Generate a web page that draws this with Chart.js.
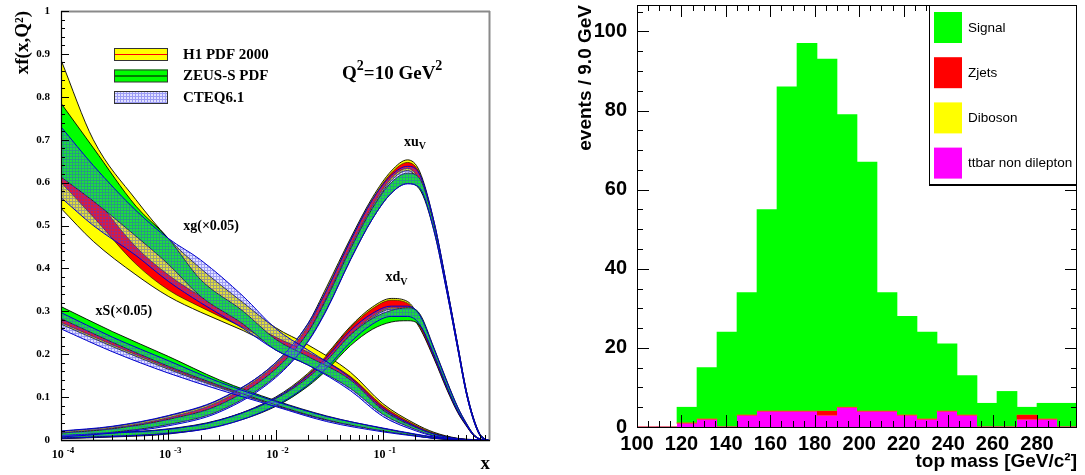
<!DOCTYPE html>
<html>
<head>
<meta charset="utf-8">
<script src="https://cdn.jsdelivr.net/npm/chart.js@4.4.1/dist/chart.umd.min.js"></script>
<style>
  html, body { margin: 0; padding: 0; background: #fff; }
  #wrap { position: relative; width: 1085px; height: 475px; overflow: hidden; }
  #pdf { position: absolute; left: 0; top: 0; }
  #mass { position: absolute; left: 540px; top: 0; }
</style>
</head>
<body>
<div id="wrap">
  <canvas id="pdf" width="540" height="475"></canvas>
  <canvas id="mass" width="545" height="475"></canvas>
</div>
<script>
// ---- left panel: PDF bands at Q2 = 10 GeV2 ----
const xTickExponents = ["-4", "-3", "-2", "-1"];
const xTickValues = [1e-4, 1e-3, 1e-2, 1e-1];

const xgX = [1e-4, 2e-4, 5e-4, 1e-3, 2e-3, 5e-3, 1e-2, 2e-2, 5e-2, 0.1, 0.2, 0.3, 0.5, 0.7, 1];
const xgH1Lo = [0.54, 0.463, 0.385, 0.335, 0.298, 0.255, 0.218, 0.185, 0.13, 0.07, 0.028, 0.012, 0.002, 0, 0];
const xgH1Hi = [0.886, 0.70, 0.56, 0.47, 0.40, 0.32, 0.262, 0.222, 0.158, 0.085, 0.038, 0.018, 0.004, 0.001, 0];
const xgH1ExpLo = [0.60, 0.52, 0.41, 0.35, 0.31, 0.262, 0.225, 0.19, 0.135, 0.072, 0.03, 0.013, 0.0025, 0.0002, 0];
const xgH1ExpHi = [0.66, 0.57, 0.45, 0.385, 0.335, 0.28, 0.24, 0.205, 0.148, 0.08, 0.035, 0.016, 0.0035, 0.0006, 0];
const xgZeusLo = [0.613, 0.557, 0.475, 0.41, 0.335, 0.27, 0.21, 0.175, 0.12, 0.06, 0.025, 0.01, 0.002, 0, 0];
const xgZeusHi = [0.785, 0.681, 0.545, 0.47, 0.374, 0.30, 0.235, 0.195, 0.14, 0.07, 0.03, 0.014, 0.003, 0.0005, 0];
const xgCteqLo = [0.565, 0.50, 0.43, 0.37, 0.32, 0.26, 0.21, 0.175, 0.115, 0.055, 0.022, 0.009, 0.0015, 0, 0];
const xgCteqHi = [0.73, 0.64, 0.535, 0.47, 0.42, 0.335, 0.26, 0.21, 0.145, 0.075, 0.032, 0.014, 0.003, 0.0005, 0];

const xsX = [1e-4, 3e-4, 1e-3, 3e-3, 1e-2, 3e-2, 0.1, 0.2, 0.3, 0.5, 0.7, 1];
const xsH1Lo = [0.27, 0.218, 0.165, 0.122, 0.08, 0.046, 0.022, 0.01, 0.004, 0.0005, 0, 0];
const xsH1Hi = [0.292, 0.238, 0.182, 0.134, 0.088, 0.052, 0.027, 0.013, 0.006, 0.001, 0.0001, 0];
const xsH1ExpLo = [0.274, 0.222, 0.168, 0.124, 0.081, 0.047, 0.023, 0.011, 0.0045, 0.0006, 0, 0];
const xsH1ExpHi = [0.288, 0.234, 0.179, 0.132, 0.087, 0.051, 0.026, 0.012, 0.0055, 0.0009, 0.0001, 0];
const xsZeusLo = [0.283, 0.228, 0.172, 0.127, 0.082, 0.047, 0.021, 0.01, 0.004, 0.0005, 0, 0];
const xsZeusHi = [0.311, 0.253, 0.195, 0.14, 0.092, 0.056, 0.027, 0.013, 0.006, 0.001, 0.0001, 0];
const xsCteqLo = [0.259, 0.206, 0.156, 0.117, 0.078, 0.043, 0.019, 0.009, 0.004, 0.0005, 0, 0];
const xsCteqHi = [0.297, 0.24, 0.185, 0.135, 0.09, 0.055, 0.028, 0.014, 0.007, 0.0012, 0.0002, 0];

const valX = [1e-4, 3e-4, 1e-3, 3e-3, 1e-2, 2e-2, 3e-2, 5e-2, 0.08, 0.12, 0.17, 0.22, 0.3, 0.4, 0.5, 0.6, 0.7, 0.8, 0.9, 1];
const xuvH1Lo = [0.008, 0.017, 0.038, 0.074, 0.158, 0.245, 0.328, 0.445, 0.54, 0.605, 0.628, 0.60, 0.495, 0.343, 0.214, 0.11, 0.048, 0.012, 0.0015, 0];
const xuvH1Hi = [0.02, 0.031, 0.056, 0.094, 0.18, 0.271, 0.357, 0.47, 0.565, 0.627, 0.653, 0.627, 0.51, 0.353, 0.222, 0.116, 0.052, 0.015, 0.0025, 0];
const xuvH1ExpLo = [0.011, 0.021, 0.043, 0.079, 0.163, 0.25, 0.333, 0.45, 0.545, 0.61, 0.633, 0.605, 0.498, 0.345, 0.216, 0.111, 0.049, 0.0125, 0.0017, 0];
const xuvH1ExpHi = [0.017, 0.028, 0.052, 0.09, 0.176, 0.265, 0.35, 0.465, 0.56, 0.622, 0.647, 0.622, 0.507, 0.351, 0.22, 0.115, 0.051, 0.0145, 0.0023, 0];
const xuvZeusLo = [0.009, 0.018, 0.036, 0.068, 0.148, 0.23, 0.305, 0.42, 0.515, 0.575, 0.598, 0.585, 0.488, 0.34, 0.213, 0.11, 0.047, 0.012, 0.0015, 0];
const xuvZeusHi = [0.016, 0.026, 0.048, 0.082, 0.165, 0.25, 0.33, 0.445, 0.54, 0.60, 0.622, 0.61, 0.503, 0.35, 0.221, 0.116, 0.052, 0.015, 0.0025, 0];
const xuvCteqLo = [0.007, 0.016, 0.033, 0.065, 0.145, 0.228, 0.303, 0.42, 0.515, 0.575, 0.597, 0.588, 0.488, 0.339, 0.212, 0.109, 0.047, 0.012, 0.0015, 0];
const xuvCteqHi = [0.021, 0.032, 0.057, 0.095, 0.18, 0.27, 0.35, 0.465, 0.56, 0.617, 0.638, 0.62, 0.51, 0.352, 0.222, 0.116, 0.052, 0.015, 0.0025, 0];

const xdvH1Lo = [0.003, 0.007, 0.014, 0.034, 0.082, 0.135, 0.178, 0.24, 0.285, 0.305, 0.298, 0.262, 0.19, 0.115, 0.064, 0.033, 0.011, 0.002, 0, 0];
const xdvH1Hi = [0.01, 0.015, 0.024, 0.046, 0.1, 0.155, 0.2, 0.265, 0.31, 0.33, 0.323, 0.285, 0.206, 0.127, 0.072, 0.037, 0.013, 0.0025, 0.0002, 0];
const xdvH1ExpLo = [0.004, 0.008, 0.016, 0.036, 0.085, 0.138, 0.181, 0.244, 0.288, 0.308, 0.301, 0.265, 0.192, 0.117, 0.065, 0.034, 0.0115, 0.0021, 0, 0];
const xdvH1ExpHi = [0.008, 0.013, 0.022, 0.044, 0.097, 0.152, 0.197, 0.262, 0.306, 0.326, 0.319, 0.282, 0.204, 0.125, 0.071, 0.036, 0.0125, 0.0024, 0.0001, 0];
const xdvZeusLo = [0.005, 0.009, 0.016, 0.033, 0.078, 0.125, 0.163, 0.22, 0.258, 0.275, 0.278, 0.268, 0.2, 0.122, 0.068, 0.036, 0.012, 0.0022, 0, 0];
const xdvZeusHi = [0.012, 0.017, 0.026, 0.047, 0.096, 0.145, 0.185, 0.245, 0.283, 0.302, 0.308, 0.295, 0.215, 0.135, 0.077, 0.04, 0.014, 0.003, 0.0003, 0];
const xdvCteqLo = [0.004, 0.008, 0.015, 0.032, 0.08, 0.128, 0.168, 0.228, 0.27, 0.288, 0.288, 0.27, 0.196, 0.12, 0.067, 0.035, 0.0115, 0.0021, 0, 0];
const xdvCteqHi = [0.011, 0.016, 0.025, 0.046, 0.098, 0.15, 0.192, 0.255, 0.295, 0.312, 0.312, 0.292, 0.213, 0.133, 0.076, 0.039, 0.0135, 0.0028, 0.0003, 0];

// ---- right panel: top mass histogram, 9 GeV bins from 100 ----
const massBins = ["100", "109", "118", "127", "136", "145", "154", "163", "172", "181", "190",
  "199", "208", "217", "226", "235", "244", "253", "262", "271", "280", "289"];
const signal = [0, 0, 4, 13, 24, 31, 51, 82, 93, 89, 74, 63, 30, 25, 22, 17, 10, 6, 9, 2, 4, 6];
const zjets = [0, 0, 0, 0, 0, 0, 0, 0, 0, 1, 0, 0, 0, 0, 0, 0, 0, 0, 0, 1, 0, 0];
const diboson = [0, 0, 0, 0, 0, 0, 0, 0, 0, 0, 0, 0, 0, 0, 0, 0, 0, 0, 0, 0, 0, 0];
const ttbarNonDilepton = [0, 0, 1, 2, 0, 3, 4, 4, 4, 3, 5, 4, 4, 3, 2, 4, 3, 0, 0, 2, 2, 0];
const legendOrder = ["Signal", "Zjets", "Diboson", "ttbar non dilepton"];

const SERIF = '"Liberation Serif", "Times New Roman", serif';
const SANS = '"Liberation Sans", Arial, sans-serif';

function hatchPattern() {
  const c = document.createElement("canvas");
  c.width = 3;
  c.height = 3;
  const g = c.getContext("2d");
  g.fillStyle = "rgba(120,120,255,0.22)";
  g.fillRect(0, 0, 3, 3);
  g.fillStyle = "rgba(60,60,230,0.42)";
  g.fillRect(0, 0, 3, 1);
  g.fillRect(0, 1, 1, 2);
  return g.createPattern(c, "repeat");
}
const cteqFill = hatchPattern();

const styles = {
  h1: { fill: "#ffff00", line: "#000", lw: 0.9, order: 4 },
  h1exp: { fill: "#ff0000", line: "#000", lw: 0.6, order: 3 },
  zeus: { fill: "#00ff00", line: "#000", lw: 0.9, order: 2 },
  cteq: { fill: cteqFill, line: "#0000cc", lw: 1, order: 1 },
};

function band(xs, lo, hi, st) {
  const pts = (arr) => xs.map((x, i) => ({ x, y: arr[i] }));
  const common = {
    borderColor: st.line,
    borderWidth: st.lw,
    pointRadius: 0,
    cubicInterpolationMode: "monotone",
    order: st.order,
  };
  return [
    { ...common, data: pts(lo), fill: false },
    { ...common, data: pts(hi), fill: "-1", backgroundColor: st.fill },
  ];
}

const pdfDatasets = [
  ...band(xgX, xgH1Lo, xgH1Hi, styles.h1),
  ...band(xgX, xgH1ExpLo, xgH1ExpHi, styles.h1exp),
  ...band(xgX, xgZeusLo, xgZeusHi, styles.zeus),
  ...band(xgX, xgCteqLo, xgCteqHi, styles.cteq),
  ...band(xsX, xsH1Lo, xsH1Hi, styles.h1),
  ...band(xsX, xsH1ExpLo, xsH1ExpHi, styles.h1exp),
  ...band(xsX, xsZeusLo, xsZeusHi, styles.zeus),
  ...band(xsX, xsCteqLo, xsCteqHi, styles.cteq),
  ...band(valX, xuvH1Lo, xuvH1Hi, styles.h1),
  ...band(valX, xuvH1ExpLo, xuvH1ExpHi, styles.h1exp),
  ...band(valX, xuvZeusLo, xuvZeusHi, styles.zeus),
  ...band(valX, xuvCteqLo, xuvCteqHi, styles.cteq),
  ...band(valX, xdvH1Lo, xdvH1Hi, styles.h1),
  ...band(valX, xdvH1ExpLo, xdvH1ExpHi, styles.h1exp),
  ...band(valX, xdvZeusLo, xdvZeusHi, styles.zeus),
  ...band(valX, xdvCteqLo, xdvCteqHi, styles.cteq),
];

// inward ROOT-style ticks and the frame, drawn from the chart's own scales
const rootFrame = {
  id: "rootFrame",
  afterDatasetsDraw(chart, args, opts) {
    const ctx = chart.ctx;
    const a = chart.chartArea;
    ctx.save();
    (opts.edges || []).forEach((e) => {
      ctx.strokeStyle = e.color;
      ctx.lineWidth = e.width;
      ctx.beginPath();
      if (e.side === "left") { ctx.moveTo(a.left + 0.5, a.top); ctx.lineTo(a.left + 0.5, a.bottom + 0.5); }
      if (e.side === "right") { ctx.moveTo(a.right - 0.5, a.top); ctx.lineTo(a.right - 0.5, a.bottom + 0.5); }
      if (e.side === "top") { ctx.moveTo(a.left, a.top + 0.5); ctx.lineTo(a.right, a.top + 0.5); }
      if (e.side === "bottom") { ctx.moveTo(a.left, a.bottom + 0.5); ctx.lineTo(a.right, a.bottom + 0.5); }
      ctx.stroke();
    });
    ctx.strokeStyle = "#000";
    ctx.lineWidth = 1;
    (opts.ticks || []).forEach((t) => {
      const s = chart.scales[t.scale];
      t.values.forEach((v) => {
        const p = Math.round(s.getPixelForValue(v)) + 0.5;
        t.sides.forEach((side) => {
          ctx.beginPath();
          if (side === "bottom") { ctx.moveTo(p, a.bottom); ctx.lineTo(p, a.bottom - t.len); }
          if (side === "top") { ctx.moveTo(p, a.top); ctx.lineTo(p, a.top + t.len); }
          if (side === "left") { ctx.moveTo(a.left, p); ctx.lineTo(a.left + t.len, p); }
          if (side === "right") { ctx.moveTo(a.right, p); ctx.lineTo(a.right - t.len, p); }
          ctx.stroke();
        });
      });
    });
    ctx.restore();
  },
};

function drawRich(ctx, parts, cx, cy, size) {
  const fontFor = (p) => `bold ${p.sub || p.sup ? Math.round(size * 0.72) : size}px ${SERIF}`;
  let w = 0;
  parts.forEach((p) => { ctx.font = fontFor(p); w += ctx.measureText(p.t).width; });
  let x = cx - w / 2;
  parts.forEach((p) => {
    ctx.font = fontFor(p);
    const dy = p.sub ? size * 0.3 : p.sup ? -size * 0.38 : 0;
    ctx.fillText(p.t, x, cy + dy);
    x += ctx.measureText(p.t).width;
  });
}

const pdfNotes = [
  { parts: [{ t: "xu" }, { t: "V", sub: true }], x: 0.2, y: 0.693, size: 14 },
  { parts: [{ t: "xd" }, { t: "V", sub: true }], x: 0.134, y: 0.378, size: 14 },
  { parts: [{ t: "xg(\u00D70.05)" }], x: 2.51e-3, y: 0.498, size: 14 },
  { parts: [{ t: "xS(\u00D70.05)" }], x: 3.86e-4, y: 0.30, size: 14 },
  { parts: [{ t: "Q" }, { t: "2", sup: true }, { t: "=10 GeV" }, { t: "2", sup: true }], x: 0.1225, y: 0.853, size: 19 },
];

const pdfLegend = [
  { label: "H1 PDF 2000", fill: "#ffff00", mid: "#ff0000" },
  { label: "ZEUS-S PDF", fill: "#00ff00", mid: "#000" },
  { label: "CTEQ6.1", fill: cteqFill, mid: null },
];

const pdfNotesPlugin = {
  id: "pdfNotes",
  afterDraw(chart) {
    const ctx = chart.ctx;
    const xs = chart.scales.x;
    const ys = chart.scales.y;
    ctx.save();
    ctx.fillStyle = "#000";
    ctx.textAlign = "left";
    ctx.textBaseline = "middle";
    pdfNotes.forEach((n) => drawRich(ctx, n.parts, xs.getPixelForValue(n.x), ys.getPixelForValue(n.y), n.size));
    // log axis labels as 10 with a raised exponent
    xTickValues.forEach((v, i) => {
      drawRich(ctx, [{ t: "10 " }, { t: xTickExponents[i], sup: true }], xs.getPixelForValue(v) + 2, chart.chartArea.bottom + 15, 12);
    });
    pdfLegend.forEach((e, i) => {
      const top = 48 + i * 21.5;
      ctx.fillStyle = e.fill;
      ctx.fillRect(114, top, 54, 12.5);
      ctx.strokeStyle = "#333";
      ctx.lineWidth = 1;
      ctx.strokeRect(114.5, top + 0.5, 53, 12);
      if (e.mid) {
        ctx.strokeStyle = e.mid;
        ctx.beginPath();
        ctx.moveTo(115, top + 6.5);
        ctx.lineTo(167, top + 6.5);
        ctx.stroke();
      }
      ctx.fillStyle = "#000";
      ctx.font = `bold 15px ${SERIF}`;
      ctx.fillText(e.label, 183, top + 7);
    });
    ctx.restore();
  },
};

// keep the chart area exactly where the frame sits
function noEdgePadding(s) {
  s.paddingTop = 0;
  s.paddingBottom = 0;
  s.paddingLeft = 0;
  s.paddingRight = 0;
}

const logMinor = [];
[-4, -3, -2, -1].forEach((d) => { for (let k = 2; k <= 9; k++) logMinor.push(k * Math.pow(10, d)); });
const yMinorPdf = [];
for (let i = 0; i <= 50; i++) yMinorPdf.push(i / 50);
const yMajorPdf = [];
for (let i = 0; i <= 10; i++) yMajorPdf.push(i / 10);

new Chart(document.getElementById("pdf"), {
  type: "line",
  data: { datasets: pdfDatasets },
  plugins: [rootFrame, pdfNotesPlugin],
  options: {
    responsive: false,
    animation: false,
    devicePixelRatio: 1,
    layout: { padding: { top: 11, right: 50, left: 0, bottom: 0 } },
    plugins: {
      legend: { display: false },
      tooltip: { enabled: false },
      rootFrame: {
        edges: [
          { side: "top", color: "#8a8a8a", width: 2 },
          { side: "right", color: "#8a8a8a", width: 2 },
          { side: "left", color: "#000", width: 1.2 },
          { side: "bottom", color: "#000", width: 1.5 },
        ],
        ticks: [
          { scale: "y", values: yMinorPdf, len: 4, sides: ["left"] },
          { scale: "y", values: yMajorPdf, len: 8, sides: ["left"] },
          { scale: "x", values: logMinor, len: 5, sides: ["bottom"] },
          { scale: "x", values: xTickValues, len: 10, sides: ["bottom"] },
        ],
      },
    },
    scales: {
      x: {
        type: "logarithmic",
        min: 1e-4,
        max: 1,
        grid: { display: false, drawTicks: false },
        border: { display: false },
        afterBuildTicks: (s) => { s.ticks = xTickValues.map((v) => ({ value: v })); },
        afterFit: (s) => { s.height = 35; noEdgePadding(s); },
        ticks: { display: false },
        title: {
          display: true, text: "x", align: "end", color: "#000",
          font: { family: SERIF, size: 19, weight: "bold" }, padding: { top: 0, bottom: 0 },
        },
      },
      y: {
        min: 0,
        max: 1,
        grid: { display: false, drawTicks: false },
        border: { display: false },
        afterFit: (s) => { s.width = 61; noEdgePadding(s); },
        ticks: {
          stepSize: 0.1,
          padding: 11,
          color: "#000",
          font: { family: SERIF, size: 11, weight: "bold" },
          callback: (v) => (v === 0 ? "0" : v === 1 ? "1" : v.toFixed(1)),
        },
        title: {
          display: true, text: "xf(x,Q\u00B2)", align: "end", color: "#000",
          font: { family: SERIF, size: 19, weight: "bold" }, padding: { top: 12, bottom: 0 },
        },
      },
    },
  },
});

// ---- histogram ----
const massLegendPlugin = {
  id: "massLegend",
  afterDraw(chart) {
    const ctx = chart.ctx;
    const a = chart.chartArea;
    const left = 389;
    const bottom = 184;
    ctx.save();
    ctx.fillStyle = "#fff";
    ctx.fillRect(left, a.top, a.right - left, bottom - a.top);
    ctx.strokeStyle = "#000";
    ctx.lineWidth = 1;
    ctx.strokeRect(left + 0.5, a.top + 0.5, a.right - left - 1, bottom - a.top);
    ctx.lineWidth = 2;
    ctx.beginPath();
    ctx.moveTo(left, bottom + 1);
    ctx.lineTo(a.right, bottom + 1);
    ctx.stroke();
    legendOrder.forEach((name, i) => {
      const ds = chart.data.datasets.find((d) => d.label === name);
      const top = 12 + i * 45.2;
      ctx.fillStyle = ds.backgroundColor;
      ctx.fillRect(394, top, 28, 31);
      ctx.fillStyle = "#000";
      ctx.font = `13.5px ${SANS}`;
      ctx.textBaseline = "middle";
      ctx.fillText(ds.label, 428, top + 16);
    });
    ctx.restore();
  },
};

const massMinorX = [];
for (let v = 100; v <= 298; v += 5) massMinorX.push(v);
const massMajorX = [];
for (let v = 100; v <= 298; v += 20) massMajorX.push(v);
const massMinorY = [];
for (let v = 0; v <= 105; v += 5) massMinorY.push(v);
const massMajorY = [0, 20, 40, 60, 80, 100];

const barCommon = { borderWidth: 0, borderSkipped: false };

new Chart(document.getElementById("mass"), {
  type: "bar",
  data: {
    labels: massBins,
    datasets: [
      { ...barCommon, label: "ttbar non dilepton", data: ttbarNonDilepton, backgroundColor: "#ff00ff",
        borderColor: "#ff3a3a", borderWidth: { top: 1, left: 0, right: 0, bottom: 0 } },
      { ...barCommon, label: "Zjets", data: zjets, backgroundColor: "#ff0000" },
      { ...barCommon, label: "Diboson", data: diboson, backgroundColor: "#ffff00" },
      { ...barCommon, label: "Signal", data: signal, backgroundColor: "#00ff00" },
    ],
  },
  plugins: [rootFrame, massLegendPlugin],
  options: {
    responsive: false,
    animation: false,
    devicePixelRatio: 1,
    layout: { padding: { top: 5, right: 8, left: 0, bottom: 0 } },
    datasets: { bar: { barPercentage: 1, categoryPercentage: 1 } },
    plugins: {
      legend: { display: false },
      tooltip: { enabled: false },
      rootFrame: {
        edges: [
          { side: "top", color: "#000", width: 1 },
          { side: "right", color: "#000", width: 1 },
          { side: "left", color: "#000", width: 1 },
          { side: "bottom", color: "#000", width: 1 },
        ],
        ticks: [
          { scale: "x2", values: massMinorX, len: 6, sides: ["bottom", "top"] },
          { scale: "x2", values: massMajorX, len: 12, sides: ["bottom", "top"] },
          { scale: "y", values: massMinorY, len: 6, sides: ["left", "right"] },
          { scale: "y", values: massMajorY, len: 12, sides: ["left", "right"] },
        ],
      },
    },
    scales: {
      x: { stacked: true, display: false },
      x2: {
        type: "linear",
        position: "bottom",
        offset: false,
        min: 100,
        max: 298,
        grid: { display: false, drawTicks: false, offset: false },
        border: { display: false },
        afterFit: (s) => { s.height = 48; noEdgePadding(s); },
        ticks: {
          stepSize: 20,
          includeBounds: false,
          autoSkip: false,
          maxRotation: 0,
          padding: 5,
          color: "#000",
          font: { family: SANS, size: 20, weight: "bold" },
        },
        title: {
          display: true, text: "top mass [GeV/c\u00B2]", align: "end", color: "#000",
          font: { family: SANS, size: 19, weight: "bold" }, padding: { top: 0, bottom: 2 },
        },
      },
      y: {
        stacked: true,
        min: 0,
        max: 106.7,
        grid: { display: false, drawTicks: false },
        border: { display: false },
        afterFit: (s) => { s.width = 97; noEdgePadding(s); },
        ticks: {
          stepSize: 20,
          includeBounds: false,
          padding: 10,
          color: "#000",
          font: { family: SANS, size: 20, weight: "bold" },
        },
        title: {
          display: true, text: "events / 9.0 GeV", align: "end", color: "#000",
          font: { family: SANS, size: 19, weight: "bold" }, padding: { top: 34, bottom: 0 },
        },
      },
    },
  },
});
</script>
</body>
</html>
